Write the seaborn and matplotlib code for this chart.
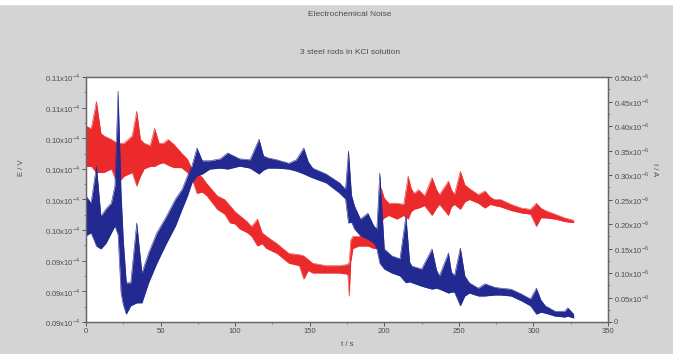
import numpy as np
import pandas as pd
import matplotlib
matplotlib.use("Agg")
import matplotlib.pyplot as plt
import seaborn as sns
from matplotlib.ticker import FixedLocator, MultipleLocator, AutoMinorLocator

# ---------------- data ----------------
# red series: potential E (units 1e-4 V), band upper / lower of the noise
t_red = [0, 3.5, 7, 10, 12, 17, 21, 25.5, 31, 34, 36.5, 39, 43, 46, 49, 52, 55, 59, 64,
         68, 71, 74.4, 78, 81, 88, 93, 96.5, 100, 103, 108, 111, 115, 118, 121, 128, 136,
         143, 146, 149, 152, 161, 170, 175.5, 176.5, 177.5, 179, 183, 189, 193, 196, 198,
         200, 203, 208.5, 213, 216, 218, 220, 223, 227, 232, 235, 237, 243, 245, 247, 251,
         254, 257, 263, 267.5, 271, 274, 278, 285, 292, 298, 302, 305, 308, 314.5, 321, 327]
e_hi = [0.1035, 0.1033, 0.1055, 0.1029, 0.1027, 0.1024, 0.1021, 0.1021, 0.1027, 0.1047,
        0.1024, 0.1021, 0.1019, 0.1033, 0.1021, 0.1021, 0.1024, 0.1020, 0.1013,
        0.1008, 0.1000, 0.0997, 0.0993, 0.0988, 0.0978, 0.0975, 0.0970, 0.0965, 0.0962,
        0.0957, 0.0953, 0.0959, 0.0948, 0.0945, 0.0939, 0.0931,
        0.0930, 0.0929, 0.0926, 0.0923, 0.0921, 0.0921, 0.0922, 0.0924, 0.0942, 0.0945,
        0.0945, 0.0948, 0.0950, 0.0949, 0.0984,
        0.0976, 0.0972, 0.0972, 0.0971, 0.0994, 0.0984, 0.0980, 0.0983, 0.0978, 0.0993,
        0.0983, 0.0979, 0.0990, 0.0983, 0.0979, 0.0998,
        0.0987, 0.0984, 0.0979, 0.0982, 0.0977, 0.0975, 0.0975, 0.0971, 0.0968, 0.0967,
        0.0972, 0.0968, 0.0966, 0.0963, 0.0960, 0.0958]
e_lo = [0.1002, 0.1002, 0.0997, 0.0997, 0.0997, 0.1000, 0.0988, 0.0994, 0.0997, 0.0986,
        0.0994, 0.1000, 0.1002, 0.1002, 0.1004, 0.1005, 0.1003, 0.1001, 0.1001,
        0.0997, 0.0992, 0.0980, 0.0981, 0.0978, 0.0967, 0.0963, 0.0956, 0.0955, 0.0951,
        0.0948, 0.0945, 0.0937, 0.0939, 0.0935, 0.0931, 0.0923,
        0.0921, 0.0910, 0.0917, 0.0915, 0.0915, 0.0915, 0.0914, 0.0896, 0.0924, 0.0935,
        0.0937, 0.0937, 0.0935, 0.0935, 0.0957,
        0.0960, 0.0962, 0.0959, 0.0962, 0.0959, 0.0965, 0.0967, 0.0968, 0.0970, 0.0962,
        0.0968, 0.0971, 0.0962, 0.0969, 0.0971, 0.0967,
        0.0973, 0.0975, 0.0972, 0.0968, 0.0971, 0.0970, 0.0969, 0.0966, 0.0964, 0.0963,
        0.0953, 0.0960, 0.0960, 0.0959, 0.0957, 0.0956]

# blue series: current I (units 1e-6 A), band upper / lower of the noise
t_blue = [0, 3.4, 7, 10, 13.5, 17, 19.4, 21.5, 23.5, 25, 27, 30, 34, 37.5, 42, 47.5, 54,
          60, 64.5, 68, 71, 74.4, 78, 83, 90, 95, 103, 110, 116, 119, 122, 128, 136, 141,
          146, 149, 152, 161, 170, 174, 176, 178, 180, 184, 189, 193, 195, 197, 200, 205,
          210.5, 214.5, 217, 218.6, 225, 232, 235, 237, 243, 245, 247, 251, 254, 257, 263,
          267.5, 274, 278, 285, 292, 298, 302, 305, 308, 314.5, 321, 323, 327]
i_hi = [0.257, 0.243, 0.318, 0.216, 0.231, 0.243, 0.278, 0.471, 0.263, 0.167, 0.080,
        0.080, 0.202, 0.100, 0.141, 0.182, 0.216,
        0.251, 0.271, 0.298, 0.318, 0.355, 0.329, 0.329, 0.333, 0.345, 0.333, 0.331,
        0.373, 0.339, 0.335, 0.331, 0.324, 0.331,
        0.355, 0.327, 0.314, 0.302, 0.284, 0.271, 0.349, 0.259, 0.237, 0.210, 0.222,
        0.196, 0.190, 0.304, 0.149, 0.135,
        0.129, 0.216, 0.122, 0.114, 0.108, 0.149, 0.106, 0.094, 0.141, 0.102, 0.094,
        0.151, 0.094, 0.080, 0.069,
        0.078, 0.071, 0.069, 0.067, 0.057, 0.047, 0.069, 0.045, 0.033, 0.022, 0.022,
        0.029, 0.016]
i_lo = [0.176, 0.182, 0.155, 0.149, 0.161, 0.182, 0.196, 0.178, 0.059, 0.035, 0.016,
        0.033, 0.039, 0.039, 0.080, 0.120, 0.161,
        0.196, 0.231, 0.257, 0.284, 0.298, 0.302, 0.312, 0.314, 0.312, 0.318, 0.314,
        0.302, 0.310, 0.314, 0.314, 0.312, 0.308,
        0.302, 0.298, 0.294, 0.284, 0.263, 0.251, 0.202, 0.204, 0.190, 0.176, 0.169,
        0.161, 0.149, 0.120, 0.108, 0.100,
        0.094, 0.080, 0.082, 0.080, 0.073, 0.067, 0.069, 0.067, 0.059, 0.061, 0.061,
        0.033, 0.053, 0.059, 0.053,
        0.053, 0.055, 0.055, 0.053, 0.043, 0.033, 0.016, 0.020, 0.018, 0.012, 0.010,
        0.012, 0.008]

# axes ticks / labels
x_ticks = [0, 50, 100, 150, 200, 250, 300, 350]
e_ticks = [0.0875, 0.0900, 0.0925, 0.0950, 0.0975, 0.1000, 0.1025, 0.1050, 0.1075]
e_labels = ["0.09", "0.09", "0.09", "0.10", "0.10", "0.10", "0.10", "0.11", "0.11"]
i_ticks = [0.0, 0.05, 0.10, 0.15, 0.20, 0.25, 0.30, 0.35, 0.40, 0.45, 0.50]
i_labels = ["0.00", "0.05", "0.10", "0.15", "0.20", "0.25", "0.30", "0.35", "0.40",
            "0.45", "0.50"]

title = "Electrochemical Noise"
subtitle = "3 steel rods in KCl solution"

# ---------------- style ----------------
sns.set_style("ticks")
plt.rcParams["font.family"] = ["Liberation Sans", "DejaVu Sans"]
plt.rcParams["mathtext.fontset"] = "custom"
plt.rcParams["mathtext.rm"] = "Liberation Sans"
txt = "#4d4d4d"
RED = "#ec2a2c"
BLUE = "#222a92"
BG = "#d4d4d4"

fig = plt.figure(figsize=(6.73, 3.54), dpi=100)
fig.patch.set_facecolor(BG)
fig.add_artist(plt.Rectangle((0, 1 - 4 / 354), 1, 4 / 354, transform=fig.transFigure,
                             color="white", zorder=0))
ax = fig.add_axes([86 / 673, 1 - 322 / 354, (608 - 86) / 673, (322 - 77) / 354])
ax.set_facecolor("white")
ax2 = ax.twinx()
ax2.patch.set_visible(False)

red_df = pd.DataFrame({"t": t_red, "hi": e_hi, "lo": e_lo})
blue_df = pd.DataFrame({"t": t_blue, "hi": i_hi, "lo": i_lo})

ax.fill_between(red_df["t"], red_df["lo"], red_df["hi"], color=RED, lw=0)
sns.lineplot(data=red_df, x="t", y="hi", ax=ax, color=RED, lw=0.4, estimator=None)
sns.lineplot(data=red_df, x="t", y="lo", ax=ax, color=RED, lw=0.4, estimator=None)

ax2.fill_between(blue_df["t"], blue_df["lo"], blue_df["hi"], color=BLUE, lw=0)
sns.lineplot(data=blue_df, x="t", y="hi", ax=ax2, color=BLUE, lw=0.4, estimator=None)
sns.lineplot(data=blue_df, x="t", y="lo", ax=ax2, color=BLUE, lw=0.4, estimator=None)

ax.set_xlim(0, 350)
ax.set_ylim(0.0875, 0.1075)
ax2.set_ylim(0, 0.5)

fs = 5.5
ax.xaxis.set_major_locator(FixedLocator(x_ticks))
ax.xaxis.set_minor_locator(MultipleLocator(25))
ax.set_xticklabels([str(v) for v in x_ticks])
ax.yaxis.set_major_locator(FixedLocator(e_ticks))
ax.yaxis.set_minor_locator(AutoMinorLocator(2))
ax.set_yticklabels([l + "x10$^{-4}$" for l in e_labels])
ax2.yaxis.set_major_locator(FixedLocator(i_ticks))
ax2.yaxis.set_minor_locator(AutoMinorLocator(2))
ax2.set_yticklabels(["0"] + [l + "x10$^{-6}$" for l in i_labels[1:]])

for a in (ax, ax2):
    a.tick_params(which="major", length=3, width=0.7, color="#555555",
                  labelsize=fs, labelcolor=txt, pad=1.5)
    a.tick_params(which="minor", length=1.5, width=0.6, color="#777777")
    for s in a.spines.values():
        s.set_color("#666666")
        s.set_linewidth(0.9)

ax.set_xlabel("t / s", fontsize=fs, color=txt, labelpad=4)
ax.set_ylabel("E / V", fontsize=fs, color=txt)
ax.yaxis.set_label_coords(-0.117, 0.63)
ax2.set_ylabel("I / A", fontsize=fs, color=txt, rotation=270)
ax2.yaxis.set_label_coords(1.096, 0.62)

fig.text(350 / 673, 1 - 14 / 354, title, ha="center", va="center", fontsize=6, color=txt)
fig.text(350 / 673, 1 - 53 / 354, subtitle, ha="center", va="center", fontsize=6, color=txt)

fig.savefig("out.png", dpi=100, facecolor=BG)
